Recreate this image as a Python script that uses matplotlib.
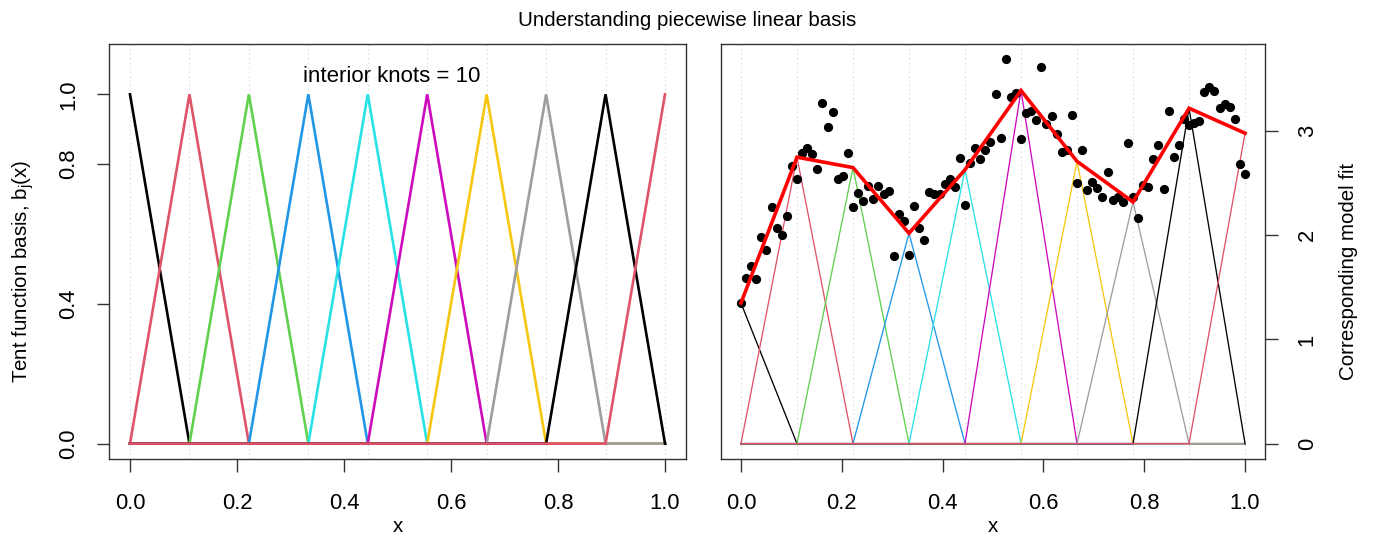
import numpy as np
import matplotlib
matplotlib.use("Agg")
import matplotlib.pyplot as plt

plt.rcParams["font.family"] = ["Liberation Sans", "DejaVu Sans"]
plt.rcParams["mathtext.fontset"] = "custom"
plt.rcParams["mathtext.rm"] = "Liberation Sans"
plt.rcParams["mathtext.it"] = "Liberation Sans"

# ---------------------------------------------------------------------------
# Data
# ---------------------------------------------------------------------------
n_knots = 10
knots = np.linspace(0, 1, n_knots)

# observed points, x = seq(0, 1, length = 100)
x_obs = np.linspace(0, 1, 100)
y_obs = [
    1.349, 1.589, 1.702, 1.577, 1.981, 1.863, 2.272, 2.074, 2.005, 2.183,
    2.663, 2.536, 2.791, 2.834, 2.779, 2.641, 3.266, 3.036, 3.180, 2.541,
    2.570, 2.793, 2.274, 2.409, 2.332, 2.473, 2.351, 2.475, 2.401, 2.423,
    1.800, 2.202, 2.135, 1.811, 2.279, 2.074, 1.952, 2.411, 2.394, 2.394,
    2.490, 2.545, 2.459, 2.738, 2.293, 2.692, 2.837, 2.728, 2.817, 2.891,
    3.353, 2.930, 3.689, 3.324, 3.363, 2.923, 3.170, 3.192, 3.106, 3.618,
    3.067, 3.144, 2.968, 2.798, 2.821, 3.154, 2.503, 2.817, 2.439, 2.510,
    2.452, 2.368, 2.609, 2.343, 2.363, 2.320, 2.885, 2.368, 2.166, 2.484,
    2.468, 2.731, 2.863, 2.442, 3.192, 2.747, 2.863, 3.115, 3.058, 3.080,
    3.099, 3.378, 3.426, 3.388, 3.224, 3.260, 3.234, 3.113, 2.689, 2.593,
]

# fitted coefficients (value of the fit at each knot)
coefs = [1.35, 2.75, 2.65, 2.02, 2.63, 3.39, 2.71, 2.32, 3.22, 2.98]

palette = ["black", "#DF536B", "#61D04F", "#2297E6", "#28E2E5",
           "#CD0BBC", "#F5C710", "#9E9E9E"]

left_yticks = [0.0, 0.4, 0.8, 1.0]
left_ylabels = ["0.0", "0.4", "0.8", "1.0"]
xticks = [0.0, 0.2, 0.4, 0.6, 0.8, 1.0]
xlabels = ["0.0", "0.2", "0.4", "0.6", "0.8", "1.0"]
right_yticks = [0, 1, 2, 3]

TICK_FS = 15.8
LAB_FS = 14.8

# ---------------------------------------------------------------------------
# Figure
# ---------------------------------------------------------------------------
fig = plt.figure(figsize=(13.75, 5.36), dpi=100)
ax1 = fig.add_axes([0.07898, 0.14366, 0.42022, 0.77425])
ax2 = fig.add_axes([0.52422, 0.14366, 0.39593, 0.77425])

xgrid = np.linspace(0, 1, 901)


def tent(j, x):
    e = np.zeros(n_knots)
    e[j] = 1.0
    return np.interp(x, knots, e)


def style_axes(ax):
    for s in ax.spines.values():
        s.set_linewidth(1.0)
        s.set_color("#333333")
    ax.tick_params(length=12.5 * 0.72, width=1.0, labelsize=TICK_FS,
                   color="#333333")
    for k in knots:
        ax.axvline(k, color="#D3D3D3", lw=0.8, ls=(0, (1, 3)), zorder=0)


# --- left panel: tent basis ---
style_axes(ax1)
for j in range(n_knots):
    ax1.plot(xgrid, tent(j, xgrid), color=palette[j % len(palette)],
             lw=1.9, solid_joinstyle="miter")
ax1.set_xlim(-0.04, 1.04)
ax1.set_ylim(-0.044, 1.144)
ax1.set_xticks(xticks)
ax1.set_xticklabels(xlabels)
ax1.set_yticks(left_yticks)
ax1.set_yticklabels(left_ylabels, rotation=90, ha="center", va="center")
ax1.tick_params(axis="x", pad=15.5)
ax1.tick_params(axis="y", pad=19.8)
ax1.text(0.489, 1.05, "interior knots = 10", ha="center", va="center",
         fontsize=16)

# --- right panel: scaled basis + fit ---
style_axes(ax2)
for j in range(n_knots):
    ax2.plot(xgrid, coefs[j] * tent(j, xgrid),
             color=palette[j % len(palette)], lw=0.95)
ax2.scatter(x_obs, y_obs, s=44, color="black", zorder=3, linewidths=0)
ax2.plot(knots, coefs, color="red", lw=2.6, zorder=4,
         solid_joinstyle="miter")
ymax = max(y_obs)
ax2.set_xlim(-0.04, 1.04)
ax2.set_ylim(-0.04 * ymax, 1.04 * ymax)
ax2.set_xticks(xticks)
ax2.set_xticklabels(xlabels)
ax2.yaxis.tick_right()
ax2.set_yticks(right_yticks)
ax2.set_yticklabels([str(v) for v in right_yticks], rotation=90,
                    ha="center", va="center")
ax2.tick_params(axis="x", pad=15.5)
ax2.tick_params(axis="y", pad=21.2)

# --- labels ---
fig.text(397.5 / 1375, 1 - 532 / 536, "x", ha="center", va="baseline",
         fontsize=LAB_FS)
fig.text(993 / 1375, 1 - 532 / 536, "x", ha="center", va="baseline",
         fontsize=LAB_FS)
fig.text(23 / 1375, 1 - 271 / 536,
         r"Tent function basis, $\mathrm{b_j(x)}$",
         rotation=90, ha="center", va="center", fontsize=LAB_FS)
fig.text(1348 / 1375, 1 - 271 / 536, "Corresponding model fit",
         rotation=90, ha="center", va="center", fontsize=LAB_FS)
fig.text(687 / 1375, 1 - 20 / 536, "Understanding piecewise linear basis",
         ha="center", va="center", fontsize=LAB_FS)

fig.savefig("out.png", dpi=100)
